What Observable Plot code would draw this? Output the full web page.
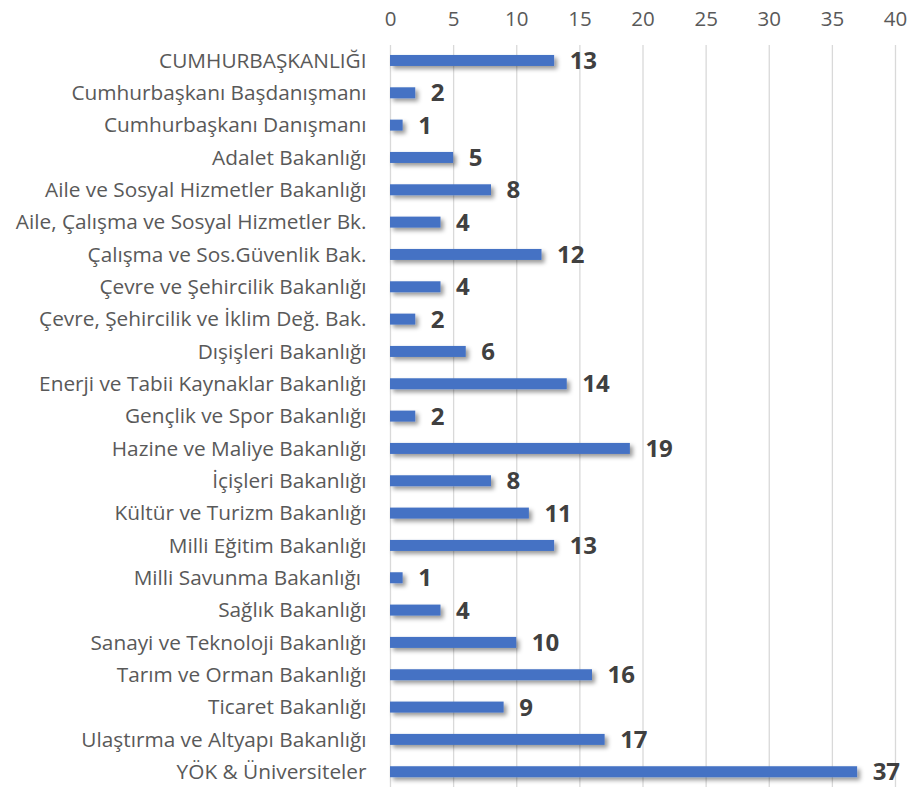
<!DOCTYPE html>
<html>
<head>
<meta charset="utf-8">
<script src="https://cdn.jsdelivr.net/npm/d3@7"></script>
<script src="https://cdn.jsdelivr.net/npm/@observablehq/plot@0.6"></script>
<style>
  html, body { margin: 0; padding: 0; background: #fff; }
  #chart svg { display: block; overflow: visible; }
</style>
</head>
<body>
<div id="chart"></div>
<script>
const categories = [
  "CUMHURBAŞKANLIĞI",
  "Cumhurbaşkanı Başdanışmanı",
  "Cumhurbaşkanı Danışmanı",
  "Adalet Bakanlığı",
  "Aile ve Sosyal Hizmetler Bakanlığı",
  "Aile, Çalışma ve Sosyal Hizmetler Bk.",
  "Çalışma ve Sos.Güvenlik Bak.",
  "Çevre ve Şehircilik Bakanlığı",
  "Çevre, Şehircilik ve İklim Değ. Bak.",
  "Dışişleri Bakanlığı",
  "Enerji ve Tabii Kaynaklar Bakanlığı",
  "Gençlik ve Spor Bakanlığı",
  "Hazine ve Maliye Bakanlığı",
  "İçişleri Bakanlığı",
  "Kültür ve Turizm Bakanlığı",
  "Milli Eğitim Bakanlığı",
  "Milli Savunma Bakanlığı ",
  "Sağlık Bakanlığı",
  "Sanayi ve Teknoloji Bakanlığı",
  "Tarım ve Orman Bakanlığı",
  "Ticaret Bakanlığı",
  "Ulaştırma ve Altyapı Bakanlığı",
  "YÖK & Üniversiteler"
];
const values = [13, 2, 1, 5, 8, 4, 12, 4, 2, 6, 14, 2, 19, 8, 11, 13, 1, 4, 10, 16, 9, 17, 37];
const xTicks = [0, 5, 10, 15, 20, 25, 30, 35, 40];

const data = categories.map((c, i) => ({name: c, value: values[i]}));

const plot = Plot.plot({
  width: 922,
  height: 787,
  marginTop: 45,
  marginBottom: 0,
  marginLeft: 390,
  marginRight: 27,
  style: {fontFamily: "'Open Sans', sans-serif", background: "#fff"},
  x: {domain: [0, 40], ticks: xTicks},
  y: {domain: categories, range: [44.3, 787.9], paddingInner: 0.66, paddingOuter: 0.33, align: 0.5, round: false},
  marks: [
    Plot.gridX(xTicks.filter(d => d > 0), {stroke: "#d9d9d9", strokeOpacity: 1, strokeWidth: 1.3}),
    Plot.ruleX([0], {stroke: "#d9d9d9", strokeWidth: 1.3}),
    Plot.axisX(xTicks, {anchor: "top", tickSize: 0, tickPadding: 20, fontSize: 20.5, fill: "#595959", label: null}),
    Plot.axisY({tickSize: 0, tickPadding: 24, fontSize: 20.8, fill: "#595959", label: null}),
    Plot.barX(data, {x: "value", y: "name", fill: "#4472C4", className: "bars"}),
    Plot.text(data, {x: "value", y: "name", text: d => String(d.value), textAnchor: "start", dx: 15, dy: 0.5, fontSize: 24, fontWeight: "bold", fill: "#404040"})
  ]
});

const svg = d3.select(plot);
const defs = svg.insert("defs", ":first-child");
const f = defs.append("filter").attr("id", "barShadow").attr("x", "-10%").attr("y", "-50%").attr("width", "130%").attr("height", "250%");
f.append("feDropShadow").attr("dx", 3).attr("dy", 3).attr("stdDeviation", 2.2).attr("flood-color", "#000").attr("flood-opacity", 0.4);
svg.selectAll("g.bars, g[aria-label='bar']").attr("filter", "url(#barShadow)");

document.getElementById("chart").appendChild(plot);
</script>
</body>
</html>
